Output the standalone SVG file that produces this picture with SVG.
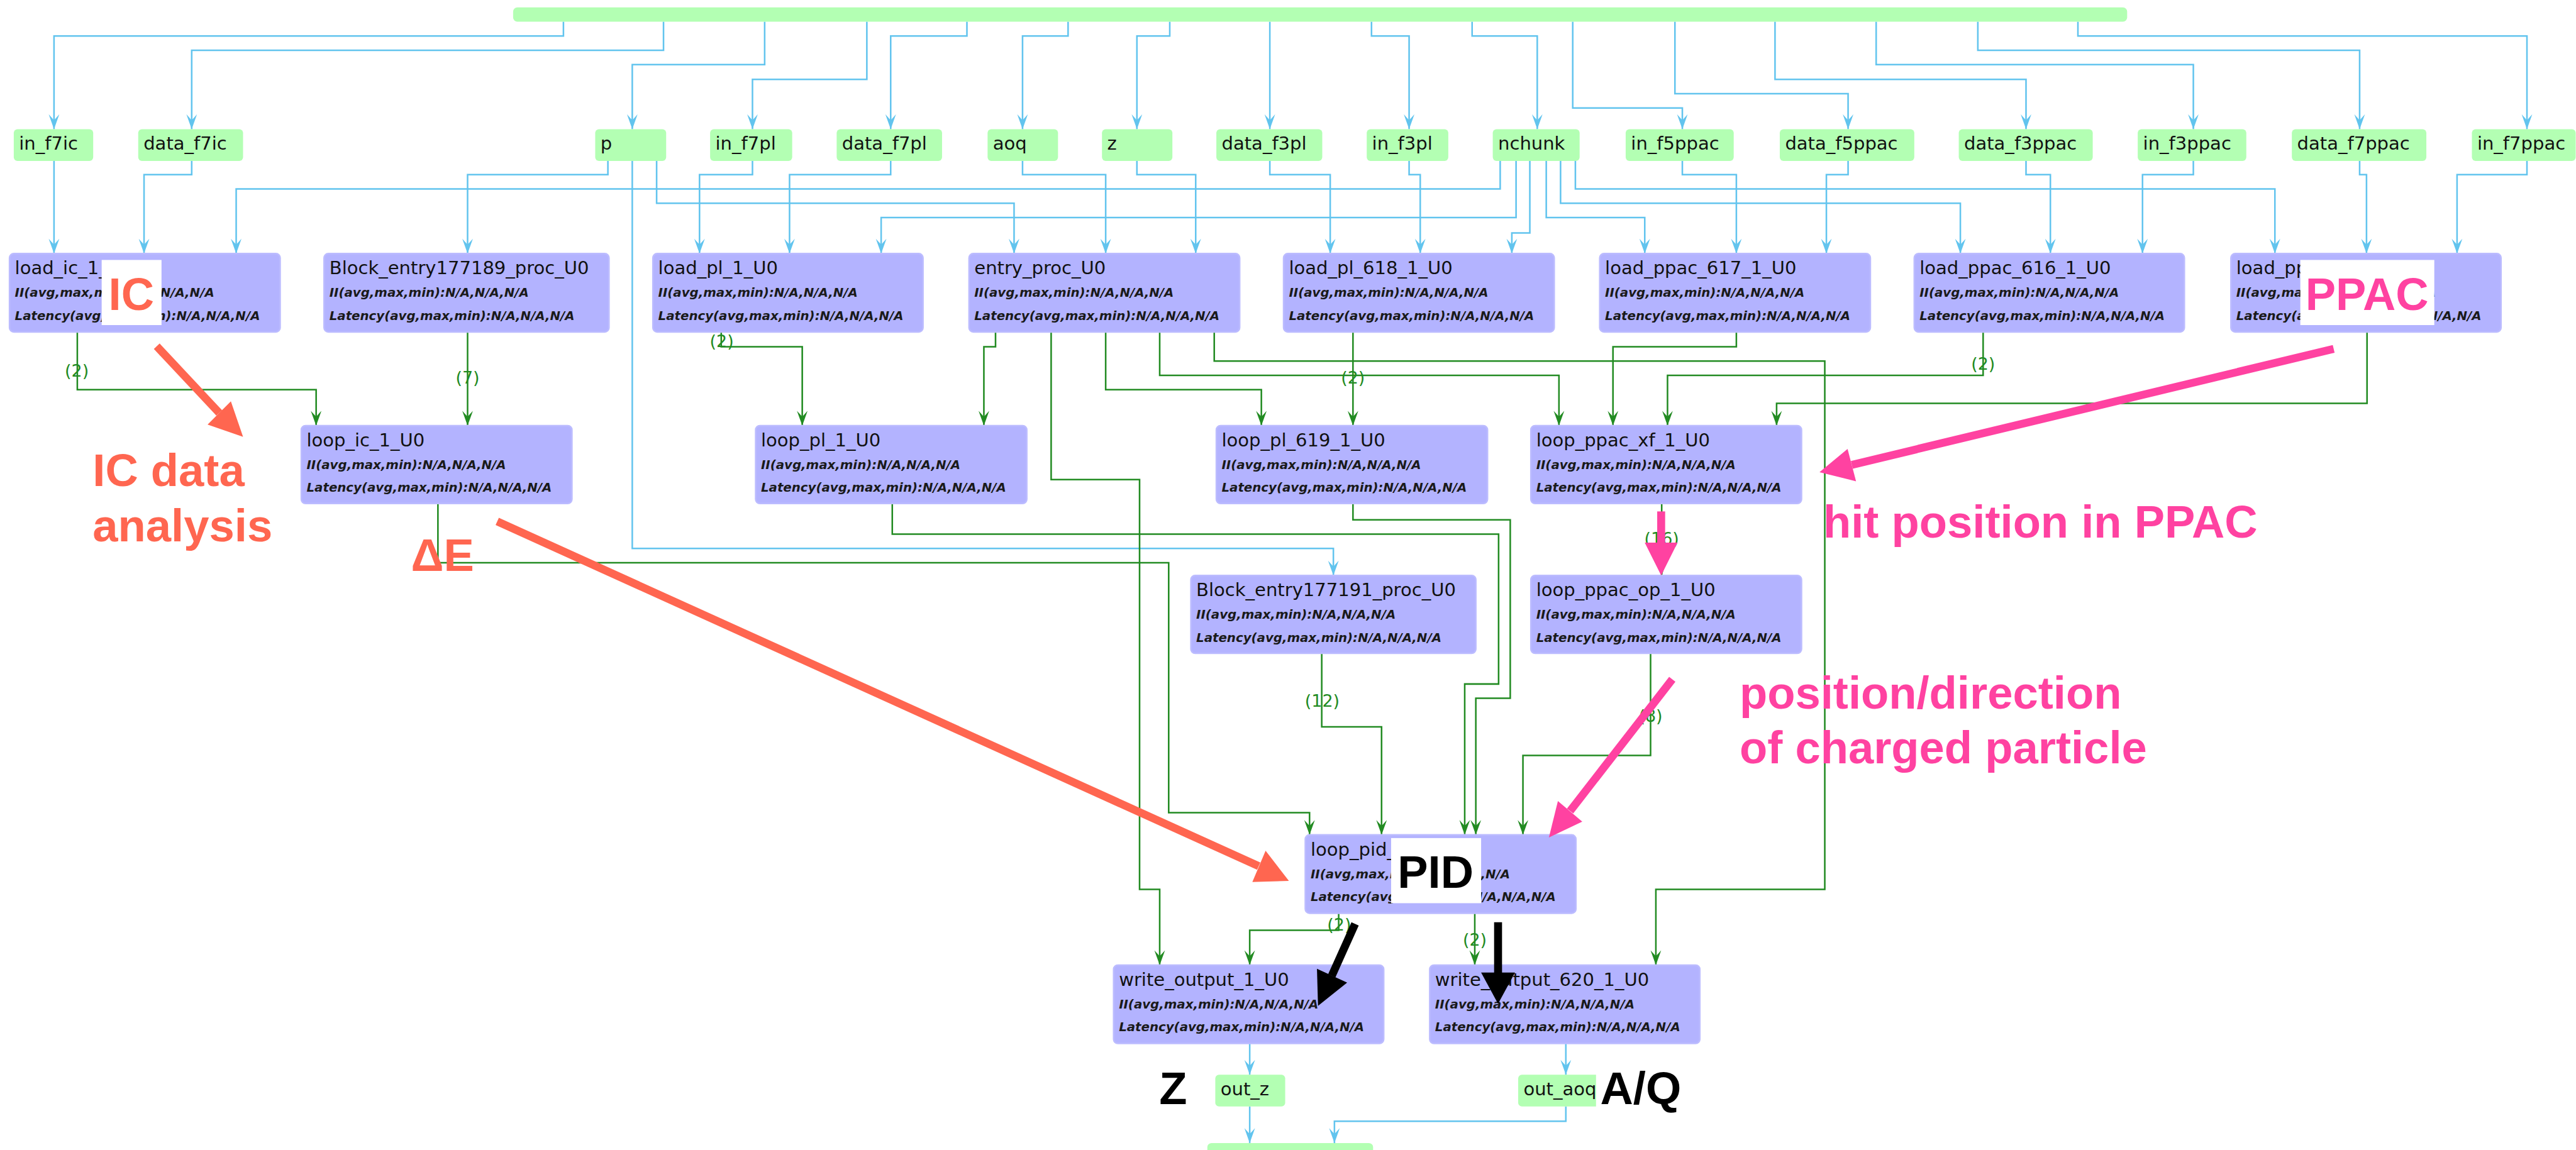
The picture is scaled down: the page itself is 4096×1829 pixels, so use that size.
<svg xmlns="http://www.w3.org/2000/svg" width="4096" height="1829" viewBox="0 0 4096 1829">
<defs>
<style>
.gn rect{fill:#b3ffb3}
.pn rect{fill:#b3b3ff;stroke:#bcbcff;stroke-width:3}
.t{font-family:"DejaVu Sans",sans-serif;font-size:34.5px;fill:#111}
.d{font-family:"DejaVu Sans",sans-serif;font-size:23.5px;font-weight:bold;font-style:italic;fill:#1a1a1a}
.eb path{fill:none;stroke:#62c4ee;stroke-width:3;marker-end:url(#ab)}
.eg path{fill:none;stroke:#228b22;stroke-width:3;marker-end:url(#ag)}
.lbl{font-family:"DejaVu Sans",sans-serif;font-size:32px;fill:#228b22;text-anchor:middle}
.ann{font-family:"Liberation Sans",Arial,sans-serif;font-weight:bold;font-size:86px}
.tom{fill:#ff6650}
.pink{fill:#ff42a1}
.blk{fill:#000}
</style>
<marker id="ab" viewBox="-30 -12 32 24" refX="0" refY="0" markerWidth="32" markerHeight="24" markerUnits="userSpaceOnUse" orient="auto"><path d="M0,0 L-28,-10 L-17,0 L-28,10 Z" fill="#62c4ee"/></marker>
<marker id="ag" viewBox="-30 -12 32 24" refX="0" refY="0" markerWidth="32" markerHeight="24" markerUnits="userSpaceOnUse" orient="auto"><path d="M0,0 L-28,-10 L-17,0 L-28,10 Z" fill="#228b22"/></marker>
</defs>
<rect width="4096" height="1829" fill="#fff"/>
<g transform="scale(0.842)">

<g id="connectors">
<g class="eb">
<path d="M1064,41V68H102V244"/>
<path d="M1253,41V95H362V244"/>
<path d="M1444,41V122H1194V244"/>
<path d="M1637,41V150H1421V244"/>
<path d="M1826,41V68H1682V244"/>
<path d="M2017,41V68H1931V244"/>
<path d="M2209,41V68H2147V244"/>
<path d="M2398,41V244"/>
<path d="M2590,41V68H2661V244"/>
<path d="M2780,41V68H2903V244"/>
<path d="M2970,41V204H3177V244"/>
<path d="M3163,41V177H3490V244"/>
<path d="M3352,41V150H3826V244"/>
<path d="M3543,41V122H4142V244"/>
<path d="M3735,41V95H4456V244"/>
<path d="M3924,41V68H4772V244"/>
<path d="M102,304V479"/>
<path d="M362,304V330H272V479"/>
<path d="M2833,304V357H446V479"/>
<path d="M1148,304V330H883V479"/>
<path d="M1194,304V1036H2518V1087"/>
<path d="M1240,304V384H1915V479"/>
<path d="M1421,304V330H1321V479"/>
<path d="M1682,304V330H1491V479"/>
<path d="M2863,304V411H1664V479"/>
<path d="M1931,304V330H2088V479"/>
<path d="M2147,304V330H2258V479"/>
<path d="M2398,304V330H2512V479"/>
<path d="M2661,304V330H2682V479"/>
<path d="M2889,304V440H2855V479"/>
<path d="M2920,304V411H3106V479"/>
<path d="M3177,304V330H3279V479"/>
<path d="M3490,304V330H3449V479"/>
<path d="M2947,304V384H3702V479"/>
<path d="M3826,304V330H3872V479"/>
<path d="M4142,304V330H4046V479"/>
<path d="M2975,304V357H4296V479"/>
<path d="M4456,304V330H4469V479"/>
<path d="M4772,304V330H4640V479"/>
<path d="M2360,1971V2030"/>
<path d="M2957,1971V2030"/>
<path d="M2360,2090V2159"/>
<path d="M2957,2090V2118H2520V2159"/>
</g>
<g class="eg">
<path d="M146,627V736H597V804"/>
<path d="M883,627V804"/>
<path d="M1362,627V655H1515V804"/>
<path d="M1880,627V655H1858V804"/>
<path d="M1985,627V906H2152V1680H2190V1823"/>
<path d="M2088,627V736H2382V804"/>
<path d="M2190,627V709H2944V804"/>
<path d="M2293,627V682H3446V1680H3127V1823"/>
<path d="M2555,627V804"/>
<path d="M3279,627V655H3046V804"/>
<path d="M3745,627V709H3149V804"/>
<path d="M4470,627V762H3355V804"/>
<path d="M827,951V1063H2207V1535H2473V1577"/>
<path d="M1685,951V1009H2830V1292H2766V1577"/>
<path d="M2555,951V982H2852V1319H2787V1577"/>
<path d="M3138,951V1087"/>
<path d="M2496,1234V1373H2609V1577"/>
<path d="M3117,1234V1427H2876V1577"/>
<path d="M2528,1725V1757H2360V1823"/>
<path d="M2785,1725V1823"/>
</g>
<g id="edge-labels">
<text class="lbl" x="145" y="711">(2)</text>
<text class="lbl" x="883" y="724">(7)</text>
<text class="lbl" x="1363" y="656">(2)</text>
<text class="lbl" x="2555" y="724">(2)</text>
<text class="lbl" x="3745" y="698">(2)</text>
<text class="lbl" x="3138" y="1029">(16)</text>
<text class="lbl" x="2497" y="1335">(12)</text>
<text class="lbl" x="3117" y="1363">(8)</text>
<text class="lbl" x="2529" y="1758">(2)</text>
<text class="lbl" x="2785" y="1786">(2)</text>
</g>
</g>

<g id="top_bar" class="gn"><rect x="969" y="14" width="3048" height="27" rx="8"/></g>

<g id="in_f7ic" class="gn"><rect x="26" y="244" width="150" height="60" rx="7"/><text class="t" x="36" y="283">in_f7ic</text></g>
<g id="data_f7ic" class="gn"><rect x="261" y="244" width="198" height="60" rx="7"/><text class="t" x="271" y="283">data_f7ic</text></g>
<g id="p" class="gn"><rect x="1124" y="244" width="134" height="60" rx="7"/><text class="t" x="1134" y="283">p</text></g>
<g id="in_f7pl" class="gn"><rect x="1341" y="244" width="155" height="60" rx="7"/><text class="t" x="1351" y="283">in_f7pl</text></g>
<g id="data_f7pl" class="gn"><rect x="1580" y="244" width="199" height="60" rx="7"/><text class="t" x="1590" y="283">data_f7pl</text></g>
<g id="aoq" class="gn"><rect x="1865" y="244" width="133" height="60" rx="7"/><text class="t" x="1875" y="283">aoq</text></g>
<g id="z" class="gn"><rect x="2081" y="244" width="133" height="60" rx="7"/><text class="t" x="2091" y="283">z</text></g>
<g id="data_f3pl" class="gn"><rect x="2297" y="244" width="200" height="60" rx="7"/><text class="t" x="2307" y="283">data_f3pl</text></g>
<g id="in_f3pl" class="gn"><rect x="2581" y="244" width="154" height="60" rx="7"/><text class="t" x="2591" y="283">in_f3pl</text></g>
<g id="nchunk" class="gn"><rect x="2819" y="244" width="164" height="60" rx="7"/><text class="t" x="2829" y="283">nchunk</text></g>
<g id="in_f5ppac" class="gn"><rect x="3070" y="244" width="204" height="60" rx="7"/><text class="t" x="3080" y="283">in_f5ppac</text></g>
<g id="data_f5ppac" class="gn"><rect x="3361" y="244" width="254" height="60" rx="7"/><text class="t" x="3371" y="283">data_f5ppac</text></g>
<g id="data_f3ppac" class="gn"><rect x="3699" y="244" width="253" height="60" rx="7"/><text class="t" x="3709" y="283">data_f3ppac</text></g>
<g id="in_f3ppac" class="gn"><rect x="4037" y="244" width="205" height="60" rx="7"/><text class="t" x="4047" y="283">in_f3ppac</text></g>
<g id="data_f7ppac" class="gn"><rect x="4328" y="244" width="254" height="60" rx="7"/><text class="t" x="4338" y="283">data_f7ppac</text></g>
<g id="in_f7ppac" class="gn"><rect x="4668" y="244" width="196" height="60" rx="7"/><text class="t" x="4678" y="283">in_f7ppac</text></g>

<g id="load_ic_1_U0" class="pn"><rect x="18" y="479" width="511" height="148" rx="8"/><text class="t" x="28" y="518">load_ic_1_U0</text><text class="d" x="28" y="561">II(avg,max,min):N/A,N/A,N/A</text><text class="d" x="28" y="604">Latency(avg,max,min):N/A,N/A,N/A</text></g>
<g id="Block_entry177189_proc_U0" class="pn"><rect x="612" y="479" width="538" height="148" rx="8"/><text class="t" x="622" y="518">Block_entry177189_proc_U0</text><text class="d" x="622" y="561">II(avg,max,min):N/A,N/A,N/A</text><text class="d" x="622" y="604">Latency(avg,max,min):N/A,N/A,N/A</text></g>
<g id="load_pl_1_U0" class="pn"><rect x="1233" y="479" width="510" height="148" rx="8"/><text class="t" x="1243" y="518">load_pl_1_U0</text><text class="d" x="1243" y="561">II(avg,max,min):N/A,N/A,N/A</text><text class="d" x="1243" y="604">Latency(avg,max,min):N/A,N/A,N/A</text></g>
<g id="entry_proc_U0" class="pn"><rect x="1830" y="479" width="511" height="148" rx="8"/><text class="t" x="1840" y="518">entry_proc_U0</text><text class="d" x="1840" y="561">II(avg,max,min):N/A,N/A,N/A</text><text class="d" x="1840" y="604">Latency(avg,max,min):N/A,N/A,N/A</text></g>
<g id="load_pl_618_1_U0" class="pn"><rect x="2424" y="479" width="511" height="148" rx="8"/><text class="t" x="2434" y="518">load_pl_618_1_U0</text><text class="d" x="2434" y="561">II(avg,max,min):N/A,N/A,N/A</text><text class="d" x="2434" y="604">Latency(avg,max,min):N/A,N/A,N/A</text></g>
<g id="load_ppac_617_1_U0" class="pn"><rect x="3021" y="479" width="511" height="148" rx="8"/><text class="t" x="3031" y="518">load_ppac_617_1_U0</text><text class="d" x="3031" y="561">II(avg,max,min):N/A,N/A,N/A</text><text class="d" x="3031" y="604">Latency(avg,max,min):N/A,N/A,N/A</text></g>
<g id="load_ppac_616_1_U0" class="pn"><rect x="3615" y="479" width="510" height="148" rx="8"/><text class="t" x="3625" y="518">load_ppac_616_1_U0</text><text class="d" x="3625" y="561">II(avg,max,min):N/A,N/A,N/A</text><text class="d" x="3625" y="604">Latency(avg,max,min):N/A,N/A,N/A</text></g>
<g id="load_ppac_1_U0" class="pn"><rect x="4213" y="479" width="510" height="148" rx="8"/><text class="t" x="4223" y="518">load_ppac_1_U0</text><text class="d" x="4223" y="561">II(avg,max,min):N/A,N/A,N/A</text><text class="d" x="4223" y="604">Latency(avg,max,min):N/A,N/A,N/A</text></g>

<g id="loop_ic_1_U0" class="pn"><rect x="569" y="804" width="511" height="147" rx="8"/><text class="t" x="579" y="843">loop_ic_1_U0</text><text class="d" x="579" y="886">II(avg,max,min):N/A,N/A,N/A</text><text class="d" x="579" y="929">Latency(avg,max,min):N/A,N/A,N/A</text></g>
<g id="loop_pl_1_U0" class="pn"><rect x="1427" y="804" width="512" height="147" rx="8"/><text class="t" x="1437" y="843">loop_pl_1_U0</text><text class="d" x="1437" y="886">II(avg,max,min):N/A,N/A,N/A</text><text class="d" x="1437" y="929">Latency(avg,max,min):N/A,N/A,N/A</text></g>
<g id="loop_pl_619_1_U0" class="pn"><rect x="2297" y="804" width="512" height="147" rx="8"/><text class="t" x="2307" y="843">loop_pl_619_1_U0</text><text class="d" x="2307" y="886">II(avg,max,min):N/A,N/A,N/A</text><text class="d" x="2307" y="929">Latency(avg,max,min):N/A,N/A,N/A</text></g>
<g id="loop_ppac_xf_1_U0" class="pn"><rect x="2891" y="804" width="511" height="147" rx="8"/><text class="t" x="2901" y="843">loop_ppac_xf_1_U0</text><text class="d" x="2901" y="886">II(avg,max,min):N/A,N/A,N/A</text><text class="d" x="2901" y="929">Latency(avg,max,min):N/A,N/A,N/A</text></g>

<g id="Block_entry177191_proc_U0" class="pn"><rect x="2249" y="1087" width="538" height="147" rx="8"/><text class="t" x="2259" y="1126">Block_entry177191_proc_U0</text><text class="d" x="2259" y="1169">II(avg,max,min):N/A,N/A,N/A</text><text class="d" x="2259" y="1212">Latency(avg,max,min):N/A,N/A,N/A</text></g>
<g id="loop_ppac_op_1_U0" class="pn"><rect x="2891" y="1087" width="511" height="147" rx="8"/><text class="t" x="2901" y="1126">loop_ppac_op_1_U0</text><text class="d" x="2901" y="1169">II(avg,max,min):N/A,N/A,N/A</text><text class="d" x="2901" y="1212">Latency(avg,max,min):N/A,N/A,N/A</text></g>

<g id="loop_pid_1_U0" class="pn"><rect x="2465" y="1577" width="511" height="148" rx="8"/><text class="t" x="2475" y="1616">loop_pid_1_U0</text><text class="d" x="2475" y="1659">II(avg,max,min):N/A,N/A,N/A</text><text class="d" x="2475" y="1702">Latency(avg,max,min):N/A,N/A,N/A</text></g>

<g id="write_output_1_U0" class="pn"><rect x="2103" y="1823" width="510" height="148" rx="8"/><text class="t" x="2113" y="1862">write_output_1_U0</text><text class="d" x="2113" y="1905">II(avg,max,min):N/A,N/A,N/A</text><text class="d" x="2113" y="1948">Latency(avg,max,min):N/A,N/A,N/A</text></g>
<g id="write_output_620_1_U0" class="pn"><rect x="2700" y="1823" width="510" height="148" rx="8"/><text class="t" x="2710" y="1862">write_output_620_1_U0</text><text class="d" x="2710" y="1905">II(avg,max,min):N/A,N/A,N/A</text><text class="d" x="2710" y="1948">Latency(avg,max,min):N/A,N/A,N/A</text></g>

<g id="out_z" class="gn"><rect x="2295" y="2030" width="132" height="60" rx="7"/><text class="t" x="2305" y="2069">out_z</text></g>
<g id="out_aoq" class="gn"><rect x="2867" y="2030" width="180" height="60" rx="7"/><text class="t" x="2877" y="2069">out_aoq</text></g>
<g id="bottom_bar" class="gn"><rect x="2280" y="2159" width="313" height="27" rx="8"/></g>

<g id="annotations">
<rect x="192" y="491" width="113" height="123" fill="#fff"/>
<text class="ann tom" x="248" y="585" text-anchor="middle">IC</text>
<rect x="4344" y="491" width="253" height="123" fill="#fff"/>
<text class="ann pink" x="4470" y="585" text-anchor="middle">PPAC</text>
<rect x="2627" y="1583" width="170" height="123" fill="#fff"/>
<text class="ann blk" x="2711" y="1677" text-anchor="middle">PID</text>
<rect x="3014" y="2020" width="176" height="80" fill="#fff"/>
<text class="ann tom" x="175" y="918">IC data</text>
<text class="ann tom" x="175" y="1023">analysis</text>
<text class="ann tom" x="776" y="1078">ΔE</text>
<text class="ann pink" x="3443" y="1016">hit position in PPAC</text>
<text class="ann pink" x="3285" y="1338">position/direction</text>
<text class="ann pink" x="3285" y="1442">of charged particle</text>
<text class="ann blk" x="2189" y="2085">Z</text>
<text class="ann blk" x="3022" y="2085">A/Q</text>
<g fill="none" stroke-width="15">
<path d="M296,654L414,780" stroke="#ff6650"/>
<path d="M939,985L2377,1636" stroke="#ff6650"/>
<path d="M4407,659L3497,878" stroke="#ff42a1"/>
<path d="M3137,966V1027" stroke="#ff42a1"/>
<path d="M3158,1283L2965,1532" stroke="#ff42a1"/>
<path d="M2559,1745L2515,1843" stroke="#000"/>
<path d="M2829,1742V1839" stroke="#000"/>
</g>
<polygon class="tom" points="459,825 392,802 436,758"/>
<polygon class="tom" points="2434,1664 2365,1666 2390,1607"/>
<polygon class="pink" points="3436,892 3489,848 3505,909"/>
<polygon class="pink" points="3137,1087 3106,1025 3168,1025"/>
<polygon class="pink" points="2925,1582 2942,1513 2988,1552"/>
<polygon class="blk" points="2489,1900 2487,1830 2544,1856"/>
<polygon class="blk" points="2829,1896 2797,1837 2861,1837"/>
</g>
</g>
</svg>
